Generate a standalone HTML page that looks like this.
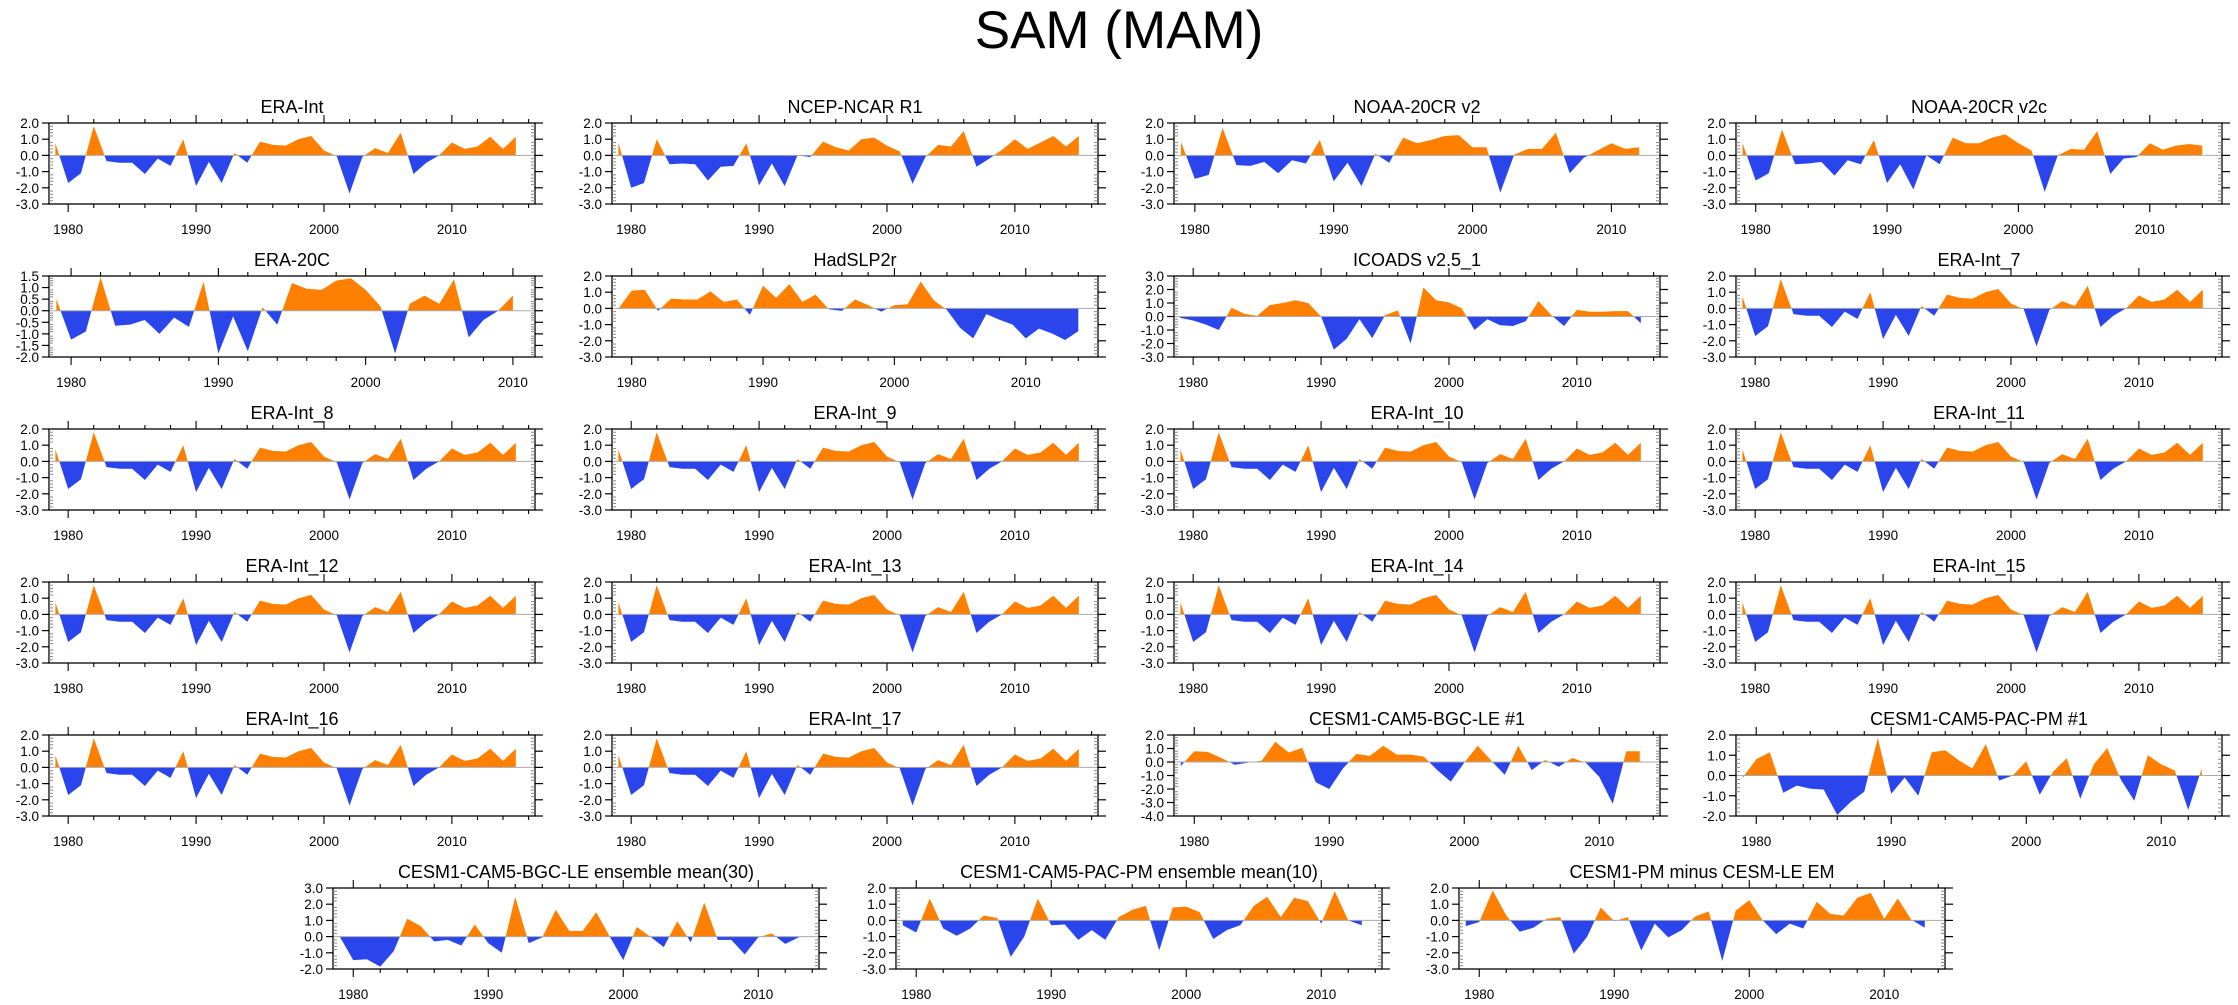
<!DOCTYPE html>
<html>
<head>
<meta charset="utf-8">
<style>
  html,body{margin:0;padding:0;background:#fff;}
  svg{display:block;font-family:"Liberation Sans",Arial,sans-serif;}
</style>
</head>
<body>
<svg id="fig" width="2238" height="1005" viewBox="0 0 2238 1005" xmlns="http://www.w3.org/2000/svg">
  <rect x="0" y="0" width="2238" height="1005" fill="#fff"/>
  <text x="1119" y="48" font-size="53" text-anchor="middle" fill="#000">SAM (MAM)</text>
</svg>
<script>
// ---- data (first year 1979) ----
const eraInt = [0.75,-1.7,-1.1,1.8,-0.35,-0.45,-0.45,-1.15,-0.2,-0.65,1.0,-1.9,-0.4,-1.7,0.15,-0.45,0.85,0.65,0.6,1.0,1.2,0.3,-0.05,-2.35,-0.1,0.45,0.15,1.4,-1.15,-0.45,0.0,0.8,0.4,0.55,1.15,0.4,1.15];
const ncep = [0.8,-2.0,-1.7,1.0,-0.55,-0.5,-0.55,-1.55,-0.7,-0.65,0.75,-1.85,-0.5,-1.9,0.0,-0.1,0.85,0.5,0.3,1.0,1.1,0.6,0.25,-1.75,-0.1,0.65,0.55,1.5,-0.7,-0.2,0.35,1.0,0.4,0.8,1.2,0.55,1.2];
const cr20v2 = [0.85,-1.45,-1.2,1.7,-0.6,-0.65,-0.4,-1.1,-0.3,-0.5,0.95,-1.6,-0.45,-1.9,0.1,-0.45,1.1,0.75,0.95,1.2,1.25,0.5,0.5,-2.3,0.05,0.4,0.4,1.4,-1.1,-0.15,0.3,0.75,0.4,0.5];
const cr20v2c = [0.75,-1.55,-1.1,1.6,-0.55,-0.5,-0.4,-1.25,-0.3,-0.55,0.95,-1.7,-0.55,-2.1,0.0,-0.55,1.1,0.75,0.75,1.1,1.3,0.75,0.3,-2.25,0.0,0.4,0.35,1.5,-1.15,-0.2,-0.1,0.75,0.35,0.6,0.7,0.6];
const era20c = [0.5,-1.25,-0.9,1.45,-0.65,-0.6,-0.4,-1.0,-0.3,-0.7,1.25,-1.85,-0.25,-1.75,0.15,-0.6,1.2,0.95,0.9,1.3,1.4,0.9,0.2,-1.85,0.3,0.65,0.3,1.35,-1.15,-0.4,0.0,0.65];
const hadslp = [0.0,1.1,1.15,-0.15,0.6,0.55,0.55,1.05,0.4,0.55,-0.4,1.4,0.65,1.5,0.4,0.85,-0.05,-0.15,0.55,0.2,-0.2,0.2,0.25,1.65,0.5,-0.1,-1.2,-1.85,-0.35,-0.7,-1.0,-1.85,-1.25,-1.55,-1.95,-1.4];
const icoads = [-0.1,-0.3,-0.6,-1.0,0.65,0.2,0.05,0.85,1.0,1.2,1.0,0.0,-2.45,-1.65,-0.2,-1.6,0.1,0.45,-2.0,2.15,1.2,1.05,0.6,-1.0,-0.2,-0.65,-0.7,-0.35,1.15,0.1,-0.7,0.5,0.35,0.35,0.4,0.4,-0.5];
const bgcLe1 = [-0.3,0.8,0.75,0.3,-0.2,-0.05,0.1,1.5,0.7,1.05,-1.5,-2.0,-0.5,0.6,0.45,1.2,0.55,0.55,0.4,-0.6,-1.45,-0.05,1.2,0.1,-0.95,1.2,-0.6,0.15,-0.35,0.3,-0.05,-1.1,-3.1,0.8,0.8];
const pacPm1 = [-0.1,0.8,1.15,-0.85,-0.5,-0.65,-0.7,-1.95,-1.3,-0.8,1.85,-0.9,-0.1,-1.0,1.15,1.25,0.75,0.35,1.55,-0.25,0.0,0.7,-0.95,0.2,0.85,-1.15,0.55,1.35,-0.2,-1.25,1.0,0.55,0.25,-1.7,0.35];
const leEm = [0.0,-1.45,-1.4,-1.85,-0.9,1.1,0.65,-0.3,-0.2,-0.55,0.75,-0.4,-1.0,2.45,-0.4,-0.05,1.65,0.35,0.35,1.5,0.0,-1.45,0.6,0.0,-0.65,0.95,-0.35,2.1,-0.2,-0.2,-1.1,-0.05,0.2,-0.45,-0.05];
const pmEm = [-0.3,-0.75,1.35,-0.5,-0.95,-0.5,0.3,0.15,-2.25,-1.0,1.35,-0.3,-0.25,-1.2,-0.6,-1.2,0.2,0.65,0.9,-1.85,0.8,0.85,0.5,-1.15,-0.6,-0.3,0.9,1.45,0.2,1.4,1.2,-0.2,1.8,0.0,-0.3];
const pmMinusLe = [-0.35,-0.1,1.85,0.3,-0.7,-0.45,0.1,0.2,-2.05,-1.0,0.8,-0.05,0.2,-1.85,-0.2,-1.05,-0.6,0.25,0.55,-2.5,0.6,1.25,0.0,-0.85,-0.2,-0.5,1.15,0.4,0.3,1.4,1.7,0.1,1.35,0.05,-0.45];

const panelTitles = ["ERA-Int","NCEP-NCAR R1","NOAA-20CR v2","NOAA-20CR v2c",
  "ERA-20C","HadSLP2r","ICOADS v2.5_1","ERA-Int_7",
  "ERA-Int_8","ERA-Int_9","ERA-Int_10","ERA-Int_11",
  "ERA-Int_12","ERA-Int_13","ERA-Int_14","ERA-Int_15",
  "ERA-Int_16","ERA-Int_17","CESM1-CAM5-BGC-LE #1","CESM1-CAM5-PAC-PM #1",
  "CESM1-CAM5-BGC-LE ensemble mean(30)","CESM1-CAM5-PAC-PM ensemble mean(10)","CESM1-PM minus CESM-LE EM"];
const panelSeries = [eraInt,ncep,cr20v2,cr20v2c, era20c,hadslp,icoads,eraInt,
  eraInt,eraInt,eraInt,eraInt, eraInt,eraInt,eraInt,eraInt,
  eraInt,eraInt,bgcLe1,pacPm1, leEm,pmEm,pmMinusLe];
const panelYMin = [-3,-3,-3,-3, -2,-3,-3,-3, -3,-3,-3,-3, -3,-3,-3,-3, -3,-3,-4,-2, -2,-3,-3];
const panelYMax = [2,2,2,2, 1.5,2,3,2, 2,2,2,2, 2,2,2,2, 2,2,2,2, 3,2,2];
const panelYStep = [1,1,1,1, 0.5,1,1,1, 1,1,1,1, 1,1,1,1, 1,1,1,1, 1,1,1];
const firstYear = 1979;
const xTickYears = [1980,1990,2000,2010];

// ---- layout ----
const NS = "http://www.w3.org/2000/svg";
const svg = document.getElementById("fig");
const W = 486, H = 81;
const rowTops = [123,276,429,582,735,888];
const colLefts4 = [49,612,1174,1736];
const colLefts3 = [333,896,1459];
const ORANGE = "#ff8000", BLUE = "#2a45eb";

function mk(tag, attrs, parent){
  const e = document.createElementNS(NS, tag);
  for (const k in attrs) e.setAttribute(k, attrs[k]);
  (parent||svg).appendChild(e);
  return e;
}

function drawPanel(i){
  const row = Math.floor(i/4) < 5 ? Math.floor(i/4) : 5;
  const L = row < 5 ? colLefts4[i%4] : colLefts3[i-20];
  const T = rowTops[row];
  const vals = panelSeries[i];
  const ymin = panelYMin[i], ymax = panelYMax[i], step = panelYStep[i];
  const x0 = firstYear - 0.5, x1 = firstYear + vals.length - 1 + 1.5;
  const xs = v => L + (v - x0) / (x1 - x0) * W;
  const ys = v => T + (ymax - v) / (ymax - ymin) * H;

  const g = mk("g", {});
  
  

  // title
  const t = mk("text", {x: L + W/2, y: T - 10, "font-size": 18, "text-anchor":"middle", fill:"#000"}, g);
  t.textContent = panelTitles[i];
  
  

  // fill polygons (split at zero crossings)
  const pts = [];
  for (let k = 0; k < vals.length; k++){
    const yr = firstYear + k;
    if (k > 0){
      const a = vals[k-1], b = vals[k];
      if ((a > 0 && b < 0) || (a < 0 && b > 0)){
        const f = a / (a - b);
        pts.push([yr - 1 + f, 0]);
      }
    }
    pts.push([yr, vals[k]]);
  }
  const zy = ys(0);
  function poly(sign){
    let d = "M" + xs(pts[0][0]).toFixed(2) + "," + zy.toFixed(2);
    for (const p of pts){
      const v = sign > 0 ? Math.max(p[1],0) : Math.min(p[1],0);
      d += "L" + xs(p[0]).toFixed(2) + "," + ys(v).toFixed(2);
    }
    d += "L" + xs(pts[pts.length-1][0]).toFixed(2) + "," + zy.toFixed(2) + "Z";
    return d;
  }
  const pos = mk("path", {d: poly(1), fill: ORANGE}, g);
  
  
  const neg = mk("path", {d: poly(-1), fill: BLUE}, g);
  
  

  // zero line
  const zl = mk("line", {x1: L, x2: L+W, y1: zy, y2: zy, stroke:"#aaa", "stroke-width":1}, g);
  
  

  // frame
  const fr = mk("rect", {x: L, y: T, width: W, height: H, fill:"none", stroke:"#000", "stroke-width":1.3}, g);
  
  

  // y ticks
  const nMinor = Math.round((ymax - ymin) / (step/5));
  for (let m = 0; m <= nMinor; m++){
    const v = ymin + m * step/5;
    const y = ys(v);
    const isMajor = m % 5 === 0;
    if (isMajor){
      mk("line", {x1: L-7, x2: L, y1: y, y2: y, stroke:"#000", "stroke-width":1.2}, g);
      mk("line", {x1: L+W, x2: L+W+8, y1: y, y2: y, stroke:"#000", "stroke-width":1.2}, g);
      const lb = mk("text", {x: L-10, y: y+5, "font-size": 13.5, "text-anchor":"end", fill:"#000"}, g);
      lb.textContent = v.toFixed(1);
      
      
    } else {
      mk("line", {x1: L, x2: L+4, y1: y, y2: y, stroke:"#888", "stroke-width":1}, g);
      mk("line", {x1: L+W-4, x2: L+W, y1: y, y2: y, stroke:"#888", "stroke-width":1}, g);
    }
  }
  // x ticks (minor every 2 years, major every 10)
  for (let yr = 1980; yr <= x1; yr += 2){
    const x = xs(yr);
    const major = yr % 10 === 0;
    const len = major ? 8 : 4;
    mk("line", {x1: x, x2: x, y1: T, y2: T-len, stroke:"#000", "stroke-width":1.1}, g);
    mk("line", {x1: x, x2: x, y1: T+H, y2: T+H+len, stroke:"#000", "stroke-width":1.1}, g);
  }
  for (const yr of xTickYears){
    if (yr > x1) continue;
    const lb = mk("text", {x: xs(yr), y: T+H+30, "font-size": 13.5, "text-anchor":"middle", fill:"#000"}, g);
    lb.textContent = String(yr);
    
    
  }
}

for (let i = 0; i < panelTitles.length; i++) drawPanel(i);
</script>
</body>
</html>
